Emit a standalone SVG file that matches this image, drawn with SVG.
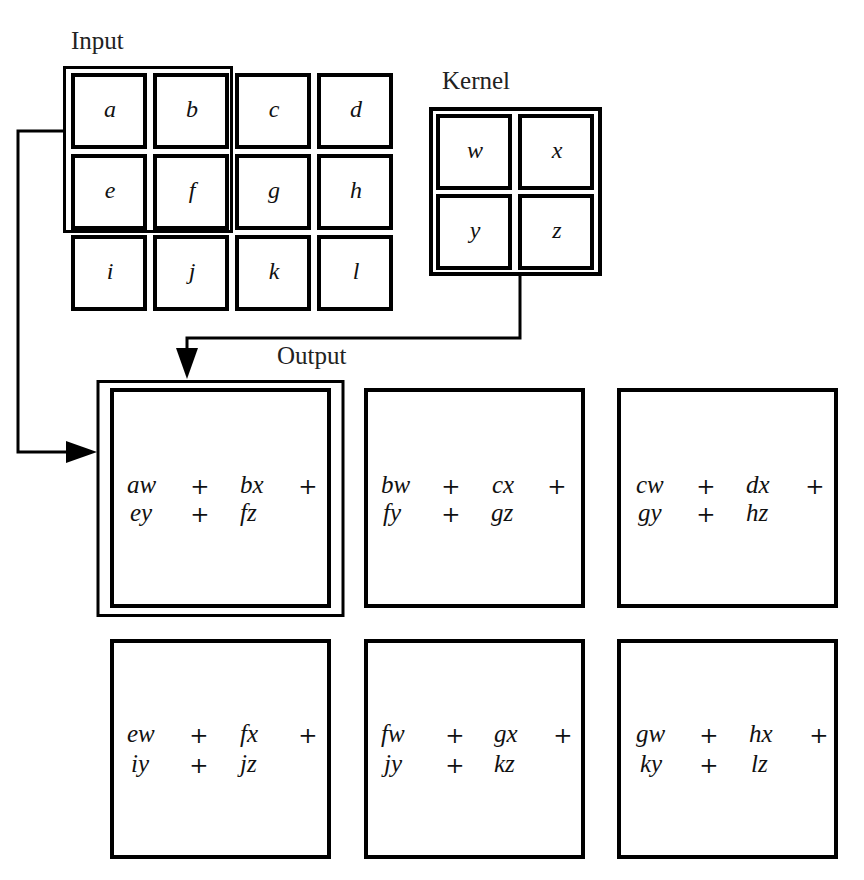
<svg xmlns="http://www.w3.org/2000/svg" width="864" height="880" viewBox="0 0 864 880">
<defs>
<style>
.cell{fill:none;stroke:#000;stroke-width:4}
.frame{fill:none;stroke:#000;stroke-width:3}
.conn{fill:none;stroke:#000;stroke-width:3}
.v{font-family:"Liberation Serif",serif;font-style:italic;font-size:24px;fill:#111;text-anchor:middle}
.t{font-family:"Liberation Serif",serif;font-style:italic;font-size:25px;fill:#111}
.p{font-family:"DejaVu Serif",serif;font-size:23px;fill:#111;text-anchor:middle}
.lbl{font-family:"Liberation Serif",serif;font-size:25px;fill:#222}
</style>
</defs>
<rect width="864" height="880" fill="#fff"/>

<text class="lbl" x="71" y="49">Input</text>
<text class="lbl" x="442" y="89">Kernel</text>
<text class="lbl" x="277" y="364">Output</text>

<g id="input">
<rect class="frame" x="64.5" y="67.5" width="167" height="164"/>
<g id="in-a"><rect class="cell" x="73" y="75" width="72" height="72"/><text class="v" x="110" y="117">a</text></g>
<g id="in-b"><rect class="cell" x="155" y="75" width="72" height="72"/><text class="v" x="192" y="117">b</text></g>
<g id="in-c"><rect class="cell" x="237" y="75" width="72" height="72"/><text class="v" x="274" y="117">c</text></g>
<g id="in-d"><rect class="cell" x="319" y="75" width="72" height="72"/><text class="v" x="356" y="117">d</text></g>
<g id="in-e"><rect class="cell" x="73" y="156" width="72" height="72"/><text class="v" x="110" y="198">e</text></g>
<g id="in-f"><rect class="cell" x="155" y="156" width="72" height="72"/><text class="v" x="192" y="198">f</text></g>
<g id="in-g"><rect class="cell" x="237" y="156" width="72" height="72"/><text class="v" x="274" y="198">g</text></g>
<g id="in-h"><rect class="cell" x="319" y="156" width="72" height="72"/><text class="v" x="356" y="198">h</text></g>
<g id="in-i"><rect class="cell" x="73" y="237" width="72" height="72"/><text class="v" x="110" y="279">i</text></g>
<g id="in-j"><rect class="cell" x="155" y="237" width="72" height="72"/><text class="v" x="192" y="279">j</text></g>
<g id="in-k"><rect class="cell" x="237" y="237" width="72" height="72"/><text class="v" x="274" y="279">k</text></g>
<g id="in-l"><rect class="cell" x="319" y="237" width="72" height="72"/><text class="v" x="356" y="279">l</text></g>
</g>

<g id="kernel">
<rect class="cell" x="431" y="109" width="169" height="165"/>
<g id="k-w"><rect class="cell" x="438" y="116" width="72" height="72"/><text class="v" x="475" y="158">w</text></g>
<g id="k-x"><rect class="cell" x="520" y="116" width="72" height="72"/><text class="v" x="557" y="158">x</text></g>
<g id="k-y"><rect class="cell" x="438" y="196" width="72" height="72"/><text class="v" x="475" y="238">y</text></g>
<g id="k-z"><rect class="cell" x="520" y="196" width="72" height="72"/><text class="v" x="557" y="238">z</text></g>
</g>

<g id="out1">
<rect class="frame" x="98" y="381.5" width="245" height="234"/>
<rect class="cell" x="112" y="390" width="217" height="216"/>
<text class="t" x="127" y="493">aw</text><text class="p" x="200" y="494">+</text><text class="t" x="240" y="493">bx</text><text class="p" x="308" y="494">+</text>
<text class="t" x="130" y="521">ey</text><text class="p" x="200" y="522">+</text><text class="t" x="240" y="521">fz</text>
</g>
<g id="out2">
<rect class="cell" x="366" y="390" width="217" height="216"/>
<text class="t" x="381" y="493">bw</text><text class="p" x="451" y="494">+</text><text class="t" x="492" y="493">cx</text><text class="p" x="557" y="494">+</text>
<text class="t" x="383" y="521">fy</text><text class="p" x="451" y="522">+</text><text class="t" x="491" y="521">gz</text>
</g>
<g id="out3">
<rect class="cell" x="619" y="390" width="217" height="216"/>
<text class="t" x="636" y="493">cw</text><text class="p" x="706" y="494">+</text><text class="t" x="746" y="493">dx</text><text class="p" x="815" y="494">+</text>
<text class="t" x="638" y="521">gy</text><text class="p" x="706" y="522">+</text><text class="t" x="746" y="521">hz</text>
</g>
<g id="out4">
<rect class="cell" x="112" y="641" width="217" height="216"/>
<text class="t" x="127" y="742">ew</text><text class="p" x="199" y="743">+</text><text class="t" x="240" y="742">fx</text><text class="p" x="308" y="743">+</text>
<text class="t" x="131" y="772">iy</text><text class="p" x="199" y="773">+</text><text class="t" x="240" y="772">jz</text>
</g>
<g id="out5">
<rect class="cell" x="366" y="641" width="217" height="216"/>
<text class="t" x="381" y="742">fw</text><text class="p" x="455" y="743">+</text><text class="t" x="494" y="742">gx</text><text class="p" x="563" y="743">+</text>
<text class="t" x="384" y="772">jy</text><text class="p" x="455" y="773">+</text><text class="t" x="494" y="772">kz</text>
</g>
<g id="out6">
<rect class="cell" x="619" y="641" width="217" height="216"/>
<text class="t" x="636" y="742">gw</text><text class="p" x="709" y="743">+</text><text class="t" x="749" y="742">hx</text><text class="p" x="819" y="743">+</text>
<text class="t" x="640" y="772">ky</text><text class="p" x="709" y="773">+</text><text class="t" x="751" y="772">lz</text>
</g>

<g id="connectors">
<polyline class="conn" points="65,131 18,131 18,452 70,452"/>
<polygon points="66,441 97,452 66,463" fill="#000"/>
<polyline class="conn" points="520,272 520,338 187,338 187,352"/>
<polygon points="176,348 187,379 198,348" fill="#000"/>
</g>
</svg>
